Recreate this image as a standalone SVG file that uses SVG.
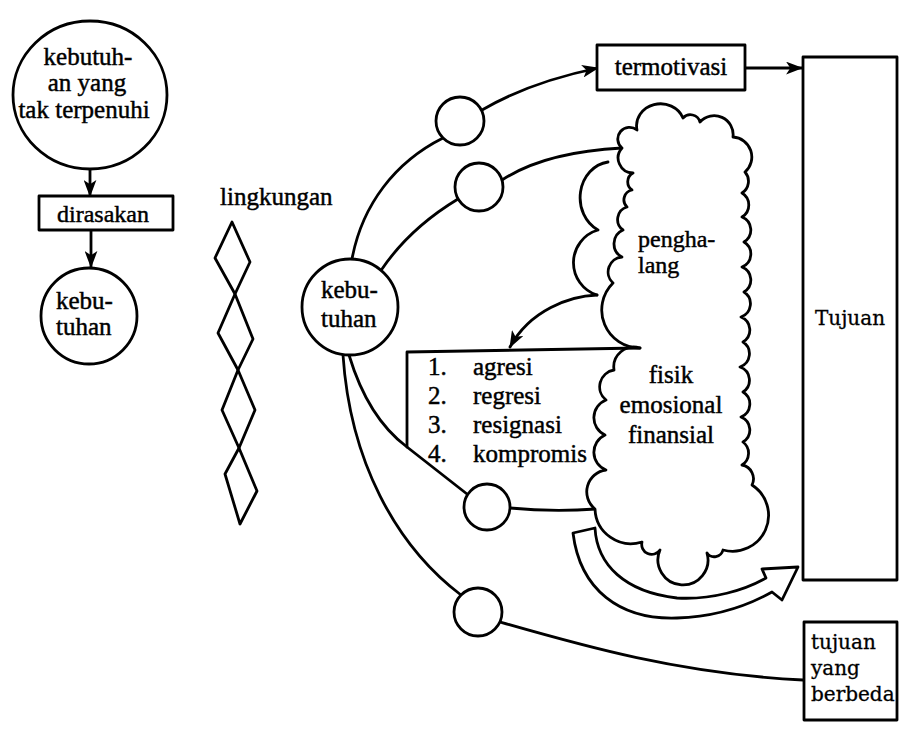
<svg xmlns="http://www.w3.org/2000/svg" width="905" height="736" viewBox="0 0 905 736">
<style>
.s{fill:none;stroke:#000;stroke-width:2.8;stroke-linecap:round;stroke-linejoin:round}
.n{fill:#fff;stroke:#000;stroke-width:2.8;stroke-linejoin:round}
text{font-family:"Liberation Serif",serif;font-size:25px;fill:#000;stroke:#000;stroke-width:0.45}
.d{font-family:"DejaVu Serif",serif;font-size:20px;stroke-width:0.3}
.m{text-anchor:middle}
</style>
<defs>
<marker id="ah" viewBox="0 0 16 12" refX="15" refY="6" markerWidth="17" markerHeight="13" markerUnits="userSpaceOnUse" orient="auto"><path d="M0,0 L16,6 L0,12 L4,6 z" fill="#000"/></marker>
</defs>
<rect width="905" height="736" fill="#fff"/>

<g id="connectors">
<path class="s" d="M90,169 L90,196" marker-end="url(#ah)"/>
<path class="s" d="M91,230 L91,267" marker-end="url(#ah)"/>
<path class="s" d="M352,259 C362,205 395,162 443,138"/>
<path class="s" d="M482,110 Q530,82 598,68" marker-end="url(#ah)"/>
<path class="s" d="M745,68 L802,68" marker-end="url(#ah)"/>
<path class="s" d="M382,269 Q410,228 458,199"/>
<path class="s" d="M502,180 Q545,152 622,148"/>
<path class="s" d="M349,355 Q368,418 407,447 L467,494"/>
<path class="s" d="M510,508 Q552,512 596,509"/>
<path class="s" d="M343,355 C350,460 395,545 461,595"/>
<path class="s" d="M500,622 C580,645 680,674 803,680"/>
<path class="s" d="M608,162 A32,36 0 0,0 598,230 A34,34 0 0,0 597,295"/>
<path class="s" d="M597,295 C570,296 530,310 510,347" marker-end="url(#ah)"/>
</g>

<g id="need-unmet">
<ellipse class="n" cx="90" cy="95" rx="77" ry="74"/>
<text class="m" x="88" y="65">kebutuh-</text>
<text class="m" x="87" y="91">an yang</text>
<text class="m" x="84" y="118">tak terpenuhi</text>
</g>

<g id="dirasakan">
<rect class="n" x="39" y="196" width="134" height="34"/>
<text x="57" y="222" style="font-size:24px">dirasakan</text>
</g>

<g id="need-left">
<circle class="n" cx="89" cy="316" r="48"/>
<text x="56" y="309">kebu-</text>
<text x="56" y="335">tuhan</text>
</g>

<g id="lingkungan">
<text x="220" y="205">lingkungan</text>
<polygon class="s" points="232,222 250,262 235,294 215,258"/>
<polygon class="s" points="235,294 253,339 238,370 218,333"/>
<polygon class="s" points="238,370 255,410 239,448 222,410"/>
<polygon class="s" points="239,448 257,491 240,524 225,474"/>
</g>

<g id="need-main">
<circle class="n" cx="350" cy="307" r="48"/>
<text x="321" y="298">kebu-</text>
<text x="321" y="327">tuhan</text>
</g>

<g id="circle-a"><circle class="n" cx="460" cy="121" r="24"/></g>
<g id="circle-b"><circle class="n" cx="479" cy="187" r="24"/></g>
<g id="circle-c"><circle class="n" cx="487" cy="507" r="23"/></g>
<g id="circle-d"><circle class="n" cx="478" cy="612" r="24"/></g>

<g id="termotivasi">
<rect class="n" x="597" y="45" width="148" height="45"/>
<text class="m" x="671" y="75">termotivasi</text>
</g>

<g id="tujuan">
<rect class="n" x="803" y="57" width="94" height="523"/>
<text class="d m" x="850" y="325">Tujuan</text>
</g>

<g id="tujuan-berbeda">
<rect class="n" x="804" y="622" width="93" height="98"/>
<text class="d" x="811" y="649">tujuan</text>
<text class="d" x="811" y="675">yang</text>
<text class="d" x="811" y="701">berbeda</text>
</g>

<g id="penghalang">
<path class="n" d="M622,148 A11,11 0 0,1 637,130 A24,22 0 0,1 683,118 A10,10 0 0,1 700,122 A19,19 0 0,1 733,137 A20,20 0 0,1 745,172 A14,14 0 0,1 742,193 A14,14 0 0,1 742,217 A14,14 0 0,1 744,242 A14,14 0 0,1 742,267 A14,14 0 0,1 744,292 A14,14 0 0,1 741,317 A14,14 0 0,1 743,342 A14,14 0 0,1 740,367 A14,14 0 0,1 743,392 A14,14 0 0,1 741,417 A14,14 0 0,1 743,442 A14,14 0 0,1 742,465 A14,14 0 0,1 752,485 A36,36 0 0,1 723,550 A9,9 0 0,1 707,553 A25,25 0 1,1 660,550 A10,10 0 0,1 642,542 A36,36 0 0,1 595,509 A22,22 0 0,1 606,470 A19,19 0 0,1 605,435 A19,19 0 0,1 606,400 A17,17 0 0,1 614,370 A20,20 0 0,1 640,348 A38,38 0 0,1 613,283 A15,15 0 0,1 622,257 A15,15 0 0,1 623,230 A13,13 0 0,1 627,207 A10,10 0 0,1 632,190 A10,10 0 0,1 633,173 A15,15 0 0,1 622,148 Z"/>
<text x="638" y="247" style="font-size:24px">pengha-</text>
<text x="638" y="273" style="font-size:24px">lang</text>
<text class="m" x="671" y="383">fisik</text>
<text class="m" x="671" y="413">emosional</text>
<text class="m" x="671" y="443">finansial</text>
</g>

<g id="reaksi">
<path class="s" d="M640,348 L407,352 L407,447"/>
<text x="428" y="375">1.</text><text x="473" y="375">agresi</text>
<text x="428" y="404">2.</text><text x="473" y="404">regresi</text>
<text x="428" y="433">3.</text><text x="473" y="433">resignasi</text>
<text x="428" y="462">4.</text><text x="473" y="462">kompromis</text>
</g>

<g id="hollow-arrow">
<path class="n" d="M573,533 L595,528 C597,565 625,592 677,598 C712,600 745,590 766,578 L762,569 L798,567 L782,600 L772,592 C745,607 712,617 677,618 C620,620 580,590 573,533 Z"/>
</g>
</svg>
